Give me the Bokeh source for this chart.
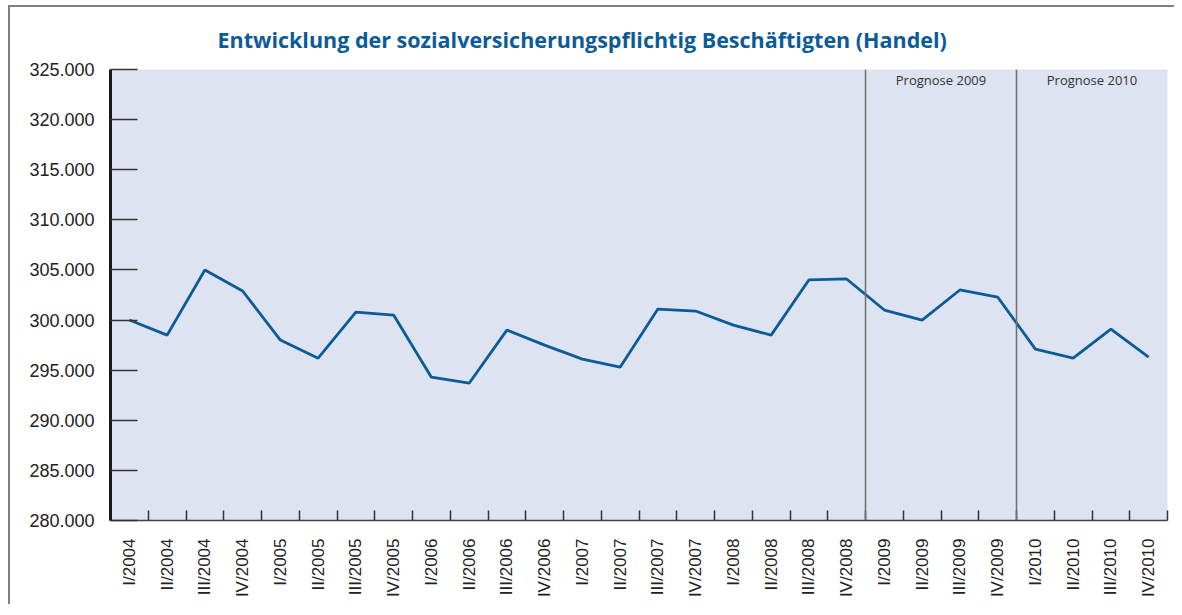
import math
from bokeh.plotting import figure
from bokeh.models import FixedTicker, Span, Label, ColumnDataSource, Range1d
from bokeh.embed import file_html
from bokeh.resources import INLINE

# ---- data ----
quarters = ["I/2004", "II/2004", "III/2004", "IV/2004",
            "I/2005", "II/2005", "III/2005", "IV/2005",
            "I/2006", "II/2006", "III/2006", "IV/2006",
            "I/2007", "II/2007", "III/2007", "IV/2007",
            "I/2008", "II/2008", "III/2008", "IV/2008",
            "I/2009", "II/2009", "III/2009", "IV/2009",
            "I/2010", "II/2010", "III/2010", "IV/2010"]
beschaeftigte = [300000, 298500, 305000, 302900,
                 298000, 296200, 300800, 300500,
                 294300, 293700, 299000, 297500,
                 296100, 295300, 301100, 300900,
                 299500, 298500, 304000, 304100,
                 301000, 300000, 303000, 302300,
                 297100, 296200, 299100, 296300]
y_ticks = [280000, 285000, 290000, 295000, 300000, 305000, 310000, 315000, 320000, 325000]
y_tick_labels = ["280.000", "285.000", "290.000", "295.000", "300.000",
                 "305.000", "310.000", "315.000", "320.000", "325.000"]
prognose_labels = ["Prognose 2009", "Prognose 2010"]
prognose_start = ["I/2009", "I/2010"]
title_text = "Entwicklung der sozialversicherungspflichtig Beschäftigten (Handel)"

n = len(quarters)
centers = [i + 0.5 for i in range(n)]

p = figure(width=1166, height=599, output_backend="svg", toolbar_location=None,
           x_range=Range1d(0, n), y_range=Range1d(280000, 325000),
           min_border_left=100, min_border_right=9, min_border_top=62, min_border_bottom=86)
p.margin = (5, 0, 0, 8)
p.styles = {"border-left": "2px solid #808080", "border-top": "2px solid #808080"}

p.background_fill_color = "#dde3f0"
p.border_fill_color = "white"
p.outline_line_color = None
p.grid.visible = False

# title
p.title.text = title_text
p.title.align = "left"
p.title.offset = 107
p.title.text_font = "Open Sans"
p.title.text_font_style = "bold"
p.title.text_font_size = "21.5px"
p.title.text_color = "#0b5b98"
p.title.standoff = 31

# forecast separators
for start, lab in zip(prognose_start, prognose_labels):
    idx = quarters.index(start)
    p.add_layout(Span(location=idx, dimension="height", line_color="#6e6e6e", line_width=1.5))
    p.add_layout(Label(x=idx + 2, y=325000, text=lab, text_align="center", text_baseline="top",
                       y_offset=-1, text_font="Open Sans", text_font_size="13px", text_color="#333333"))

src = ColumnDataSource(dict(x=centers, y=beschaeftigte))
p.line("x", "y", source=src, line_color="#0b5b98", line_width=2.8)

# y axis
ya = p.yaxis[0]
ya.ticker = FixedTicker(ticks=y_ticks)
ya.major_label_overrides = {t: l for t, l in zip(y_ticks, y_tick_labels)}
ya.major_tick_in = 27
ya.major_tick_out = 0
ya.major_tick_line_color = "#333333"
ya.major_tick_line_width = 1.5
ya.minor_tick_line_color = None
ya.axis_line_color = "#1a1a1a"
ya.axis_line_width = 3
ya.major_label_standoff = 16
ya.major_label_text_font = "Liberation Sans"
ya.major_label_text_font_size = "18px"
ya.major_label_text_color = "#222222"

# x axis
xa = p.xaxis[0]
xa.ticker = FixedTicker(ticks=centers, minor_ticks=list(range(n + 1)))
xa.major_label_overrides = {c: q for c, q in zip(centers, quarters)}
xa.major_tick_line_color = None
xa.minor_tick_in = 10
xa.minor_tick_out = 0
xa.minor_tick_line_color = "#333333"
xa.minor_tick_line_width = 1.5
xa.axis_line_color = "#444444"
xa.axis_line_width = 1.5
xa.major_label_orientation = math.pi / 2
xa.major_label_standoff = 12
xa.major_label_text_font = "Liberation Sans"
xa.major_label_text_font_size = "17px"
xa.major_label_text_color = "#222222"

open("out.html", "w").write(file_html(p, INLINE))
